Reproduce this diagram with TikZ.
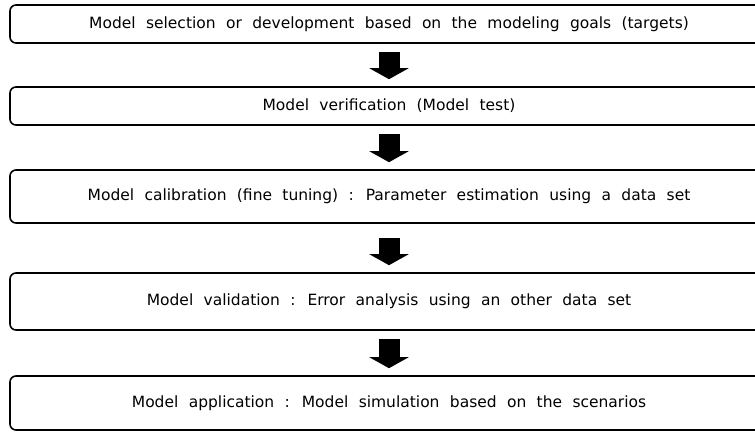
\documentclass[tikz,border=0pt]{standalone}
\usepackage{fontspec}
\setmainfont[WordSpace=2.1]{DejaVu Sans}
\usetikzlibrary{arrows.meta}

\begin{document}
\begin{tikzpicture}[x=1pt,y=-1pt,
  stage/.style={draw,line width=1.6pt,rounded corners=6pt,minimum width=758pt,
    inner sep=0pt,font=\fontsize{15.5}{18}\selectfont},
  flow/.style={line width=21pt,-{Triangle[width=39pt,length=11pt]},
    shorten <=8.5pt,shorten >=7pt}]
  \clip (0,0) rectangle (755,432);

  \node[stage,minimum height=38pt] (sel) at (389,24)
    {Model selection or development based on the modeling goals (targets)};
  \node[stage,minimum height=38pt] (ver) at (389,106)
    {Model verification (Model test)};
  \node[stage,minimum height=53pt] (cal) at (389,196.5)
    {Model calibration (fine tuning) : Parameter estimation using a data set};
  \node[stage,minimum height=57pt] (val) at (389,301.5)
    {Model validation : Error analysis using an other data set};
  \node[stage,minimum height=54pt] (app) at (389,403)
    {Model application : Model simulation based on the scenarios};

  \draw[flow] (sel.south) -- (ver.north);
  \draw[flow] (ver.south) -- (cal.north);
  \draw[flow,shorten <=14pt] (cal.south) -- (val.north);
  \draw[flow] (val.south) -- (app.north);
\end{tikzpicture}
\end{document}
